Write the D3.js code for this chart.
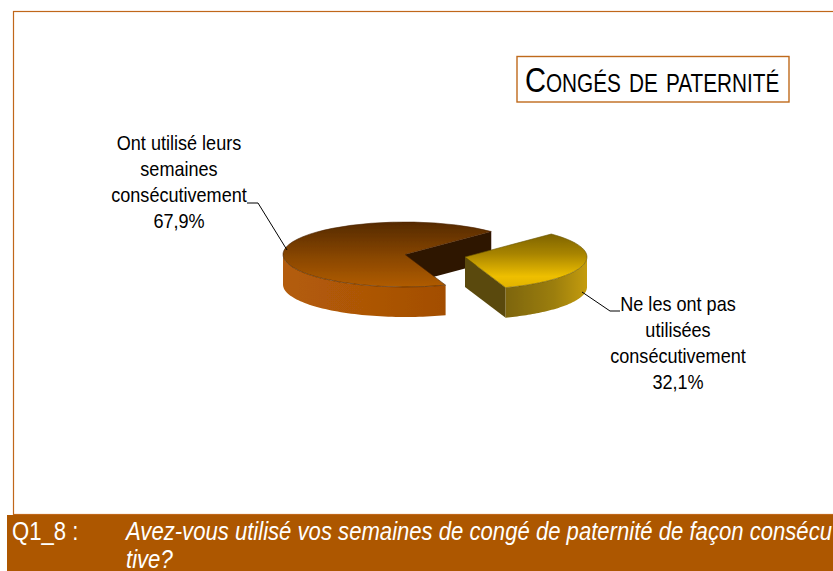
<!DOCTYPE html>
<html><head><meta charset="utf-8">
<script src="https://cdn.jsdelivr.net/npm/d3@7"></script>
<style>html,body{margin:0;padding:0;background:#fff;overflow:hidden}svg{display:block}
text{font-family:"Liberation Sans",sans-serif}</style>
</head><body><svg id="c" width="833" height="571"></svg>
<script>
const categories = ["Ne les ont pas utilisées consécutivement", "Ont utilisé leurs semaines consécutivement"];
const values = [32.1, 67.9];
const labelLines = [["Ne les ont pas","utilisées","consécutivement","32,1%"],["Ont utilisé  leurs","semaines","consécutivement","67,9%"]];
const titleText = "Congés de paternité";
const footerCode = "Q1_8 :";
const footerLines = ["Avez-vous utilisé vos semaines de congé de paternité de façon consécu","tive?"];

const svg = d3.select("#c");
const cx=405, cy=254.5, rx=122, ry=32.5, depth=30;
const explode=[{dx:60,dy:2.5},{dx:0,dy:0}];
const toRad=Math.PI/180;
const pie=d3.pie().sort(null).value(d=>d).startAngle(45*toRad).endAngle(405*toRad);
const arcs=pie(values);
const sx=d3.scaleLinear().domain([-1,1]).range([-rx,rx]);
const sy=d3.scaleLinear().domain([-1,1]).range([-ry,ry]);
const pt=(a)=>[sx(Math.sin(a)),sy(-Math.cos(a))];

const defs=svg.append("defs");
function grad(id,x1,y1,x2,y2,stops){
  const g=defs.append("linearGradient").attr("id",id).attr("gradientUnits","userSpaceOnUse")
    .attr("x1",x1).attr("y1",y1).attr("x2",x2).attr("y2",y2);
  stops.forEach(s=>g.append("stop").attr("offset",s[0]).attr("stop-color",s[1]));
}
// top faces are drawn on a unit circle, so their gradients run from -1 to 1
grad("topB",0,-1,0,1,[[0,"#552a00"],[0.55,"#8a4700"],[1,"#b05c00"]]);
grad("sideB",-rx,0,40,0,[[0,"#b35c08"],[0.5,"#ad5606"],[1,"#a34e00"]]);
grad("topY",0,-1,0,1,[[0,"#6a5400"],[0.45,"#a88400"],[0.8,"#eebf00"],[1,"#e0b000"]]);
grad("sideY",40,0,rx,0,[[0,"#7d6508"],[0.6,"#9c7e10"],[1,"#c49c10"]]);
defs.append("filter").attr("id","soft").append("feGaussianBlur").attr("stdDeviation",0.5);

// squeezes a text horizontally, as a narrow face would set it
function narrow(sel,ratio){
  sel.each(function(){
    this.setAttribute("textLength",this.getComputedTextLength()*ratio);
    this.setAttribute("lengthAdjust","spacingAndGlyphs");
  });
  return sel;
}

// page frame and title
svg.append("rect").attr("x",13.5).attr("y",11.5).attr("width",900).attr("height",503)
  .attr("fill","#fff").attr("stroke","#c0671a").attr("stroke-width",1.2);
svg.append("rect").attr("x",517).attr("y",56.5).attr("width",272).attr("height",45.5)
  .attr("fill","#fff").attr("stroke","#bf6a1c").attr("stroke-width",1.4);
narrow(svg.append("text").attr("x",525).attr("y",92).attr("font-size",35).attr("fill","#000")
  .style("font-variant","small-caps").text(titleText),0.83);

const line=d3.line();
const colors=[
 {top:"url(#topY)",side:"url(#sideY)",wall:"#5a490a"},
 {top:"url(#topB)",side:"url(#sideB)",wall:"#2e1500"}
];
const arcGen=d3.arc().innerRadius(0).outerRadius(1);
const pieG=svg.append("g").attr("filter","url(#soft)");
[1,0].forEach(i=>{
  const d=arcs[i], e=explode[i], c=colors[i];
  const g=pieG.append("g").attr("transform",`translate(${cx+e.dx},${cy+e.dy})`);
  // the closing cut of each slice is the flat face turned toward the viewer
  const p=pt(d.endAngle);
  g.append("path").attr("fill",c.wall)
    .attr("d",line([[0,0],p,[p[0],p[1]+depth],[0,depth]])+"Z");
  // outer wall: the front half of the rim only
  const a0=Math.max(d.startAngle,90*toRad), a1=Math.min(d.endAngle,270*toRad);
  const angles=d3.range(0,61).map(t=>a0+(a1-a0)*t/60);
  const up=angles.map(pt);
  const down=up.map(q=>[q[0],q[1]+depth]).reverse();
  g.append("path").attr("fill",c.side).attr("d",line(up.concat(down))+"Z");
  // top
  g.append("path").attr("fill",c.top).attr("stroke",i===1?"#4a2400":"#6a5500").attr("stroke-width",0.6)
    .attr("transform",`scale(${rx},${ry})`).style("vector-effect","non-scaling-stroke")
    .attr("d",arcGen(d));
});

// leader lines
const leaders=[
 [[582,292],[610,311],[620,311]],
 [[247,203],[258,203],[287,250]]
];
leaders.forEach(l=>svg.append("path").attr("fill","none").attr("stroke","#000").attr("stroke-width",1).attr("d",line(l)));

// labels
const labelX=[678,179], labelY=[311,150];
labelLines.forEach((ls,i)=>{
  ls.forEach((s,j)=>{
    narrow(svg.append("text").attr("text-anchor","middle").attr("font-size",21).attr("fill","#000")
      .attr("x",labelX[i]).attr("y",labelY[i]+j*26).text(s),0.86);
  });
});

// footer
svg.append("rect").attr("x",7).attr("y",515).attr("width",826).attr("height",56).attr("fill","#ad5700");
narrow(svg.append("text").attr("x",12).attr("y",540).attr("font-size",26).attr("fill","#fff").text(footerCode),0.85);
footerLines.forEach((s,j)=>narrow(svg.append("text").attr("x",126).attr("y",540+j*28).attr("font-size",26)
  .attr("font-style","italic").attr("fill","#fff").text(s),0.85));
</script></body></html>
